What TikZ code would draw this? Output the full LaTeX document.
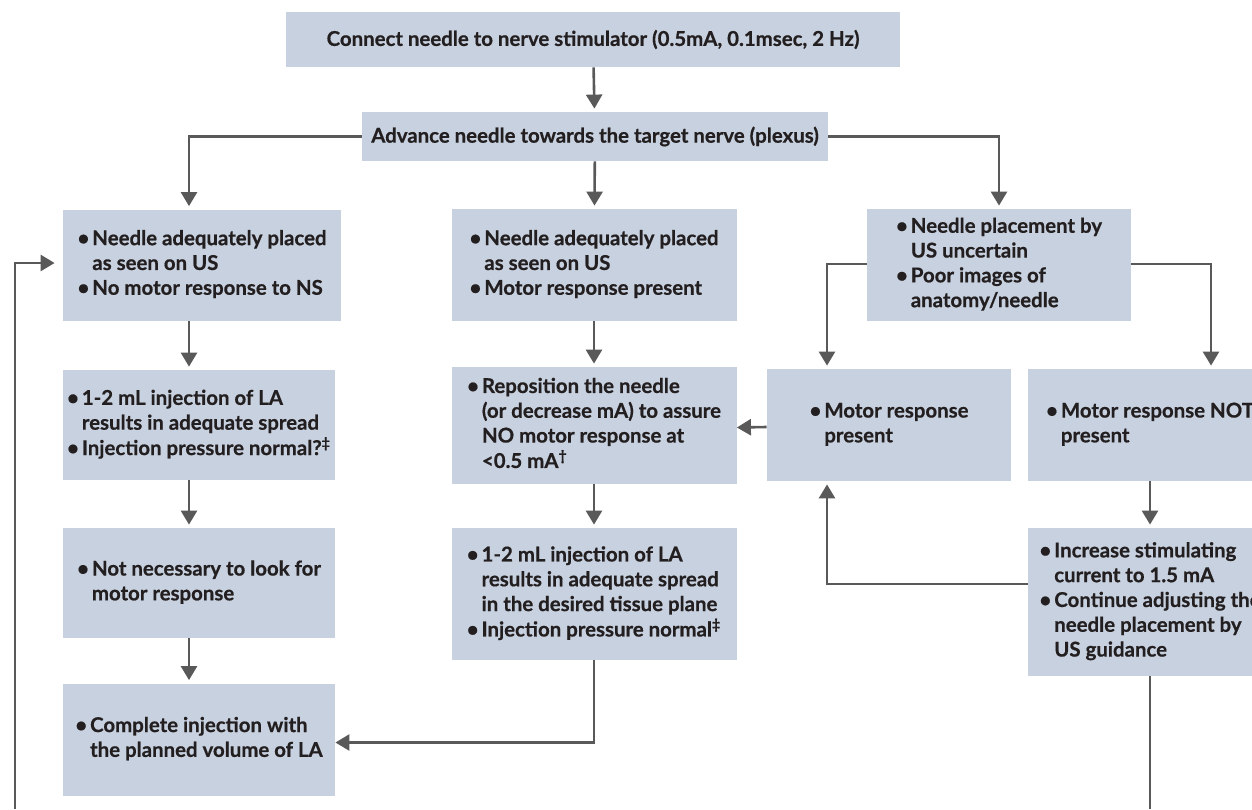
\documentclass[tikz,border=0pt]{standalone}
\usepackage{fontspec}
\setmainfont{Lato}[BoldFeatures={FakeBold=0.6}]
\usepackage{xcolor}
\usetikzlibrary{arrows.meta}
\definecolor{boxc}{HTML}{C8D1DF}
\definecolor{linec}{HTML}{595959}
\definecolor{txtc}{HTML}{231F20}
\newcommand{\bl}{\textbullet}
\newcommand{\sdag}{\textsuperscript{\textdagger}}
\newcommand{\sddag}{\textsuperscript{\textdaggerdbl}}
\tikzset{
  ar/.style={-{Triangle[length=7pt,width=8pt]},line width=1.3pt,linec,shorten >=1.5pt},
  ln/.style={line width=1.3pt,linec},
  box/.style={fill=boxc,inner sep=0pt,text=txtc,font=\bfseries\fontsize{10.2}{12.4}\selectfont}
}

\begin{document}
\begin{tikzpicture}[x=0.5pt,y=-0.5pt]
\useasboundingbox (0,0) rectangle (1252,809);
% guide lines for the connectors
\coordinate (xl) at (189,0);
\coordinate (xr) at (827,0);
\coordinate (xrr) at (1211,0);
\coordinate (lb) at (15,809);
\coordinate (rb) at (0,809);
% top
\node[box,minimum width=307pt,minimum height=27.5pt] (top) at (593,39.5) {Connect needle to nerve stimulator (0.5mA, 0.1msec, 2 Hz)};
\node[box,minimum width=233pt,minimum height=24.5pt] (adv) at (595,136.5) {Advance needle towards the target nerve (plexus)};
% left column
\node[box,minimum width=139pt,minimum height=55.5pt] (L1) at (202,265) {\begin{tabular}{@{}l@{\hspace{1.5pt}}l@{}}\bl&Needle adequately placed\\&as seen on US\\\bl&No motor response to NS\end{tabular}};
\node[box,minimum width=136pt,minimum height=55pt] (L2) at (199,425) {\begin{tabular}{@{}l@{\hspace{1.5pt}}l@{}}\bl&1-2 mL injection of LA\\&results in adequate spread\\\bl&Injection pressure normal?\sddag\end{tabular}};
\node[box,minimum width=136pt,minimum height=55pt] (L3) at (199,583) {\begin{tabular}{@{}l@{\hspace{1.5pt}}l@{}}\bl&Not necessary to look for\\&motor response\end{tabular}};
\node[box,minimum width=136pt,minimum height=56pt] (L4) at (199,739.5) {\begin{tabular}{@{}l@{\hspace{1.5pt}}l@{}}\bl&Complete injection with\\&the planned volume of LA\end{tabular}};
% middle column
\node[box,minimum width=142.5pt,minimum height=56pt] (M1) at (594,265) {\begin{tabular}{@{}l@{\hspace{1.5pt}}l@{}}\bl&Needle adequately placed\\&as seen on US\\\bl&Motor response present\end{tabular}};
\node[box,minimum width=142.5pt,minimum height=58.5pt] (M2) at (594,425.5) {\begin{tabular}{@{}l@{\hspace{1.5pt}}l@{}}\bl&Reposition the needle\\&(or decrease mA) to assure\\&NO motor response at\\&<0.5 mA\sdag\end{tabular}};
\node[box,minimum width=142.5pt,minimum height=66pt] (M3) at (594,594) {\begin{tabular}{@{}l@{\hspace{1.5pt}}l@{}}\bl&1-2 mL injection of LA\\&results in adequate spread\\&in the desired tissue plane\\\bl&Injection pressure normal\sddag\end{tabular}};
% right column
\node[box,minimum width=132pt,minimum height=56pt] (R1) at (999,265) {\begin{tabular}{@{}l@{\hspace{1.5pt}}l@{}}\bl&Needle placement by\\&US uncertain\\\bl&Poor images of\\&anatomy/needle\end{tabular}};
\node[box,minimum width=122pt,minimum height=56pt] (R2a) at (889,425) {\begin{tabular}{@{}l@{\hspace{1.5pt}}l@{}}\bl&Motor response\\&present\end{tabular}};
\node[box,minimum width=122pt,minimum height=56pt] (R2b) at (1150,425) {\begin{tabular}{@{}l@{\hspace{1.5pt}}l@{}}\bl&Motor response NOT\\&present\end{tabular}};
\node[box,minimum width=122pt,minimum height=74pt] (R3) at (1150,602) {\begin{tabular}{@{}l@{\hspace{1.5pt}}l@{}}\bl&Increase stimulating\\&current to 1.5 mA\\\bl&Continue adjusting the\\&needle placement by\\&US guidance\end{tabular}};
% connectors
\draw[ar] (top) -- (adv);
\draw[ar] (adv.west) -| (L1.north -| xl);
\draw[ar] (adv) -- (M1);
\draw[ar] (adv.east) -| (R1.north);
\draw[ar] (L1.south -| xl) -- (L2.north -| xl);
\draw[ar] (L2.south -| xl) -- (L3.north -| xl);
\draw[ar] (L3.south -| xl) -- (L4.north -| xl);
\draw[ar] (M1) -- (M2);
\draw[ar] (M2) -- (M3);
\draw[ar,shorten >=0pt] (M3.south) |- ([yshift=-1.5pt]L4.east);
\draw[ar] ([yshift=0.5pt]R1.west) -| (R2a.north -| xr);
\draw[ar] ([yshift=0.5pt]R1.east) -| (R2b.north -| xrr);
\draw[ar,shorten >=0pt] ([yshift=-1pt]R2a.west) -- ([yshift=-1pt]M2.east);
\draw[ar] (R2b) -- (R3);
\draw[ar] ([yshift=9pt]R3.west) -| (R2a.south -| xr);
\draw[ar,shorten >=4pt] (lb) |- ([yshift=1pt]L1.west);
\draw[ln] (R3.south) -- (R3.south |- rb);
\end{tikzpicture}
\end{document}
